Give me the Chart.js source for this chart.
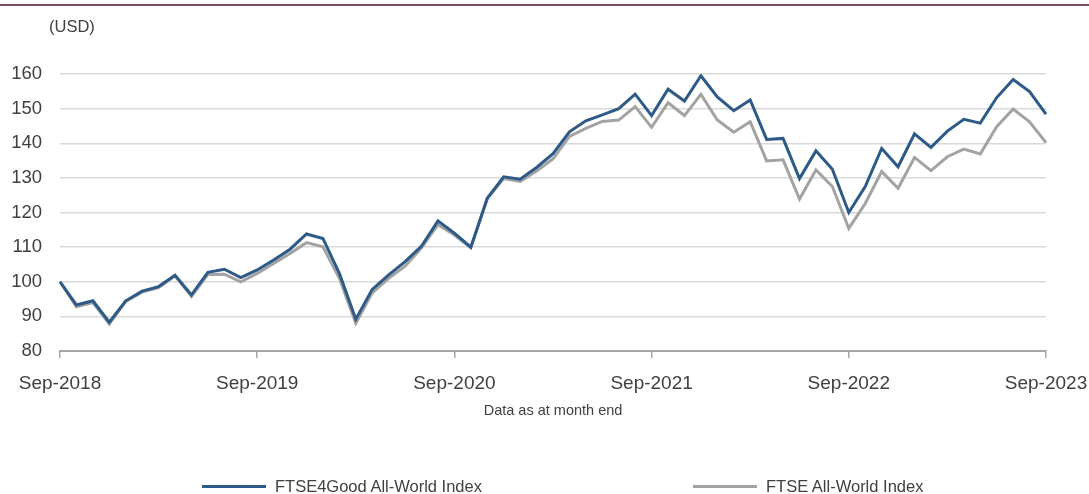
<!DOCTYPE html>
<html lang="en">
<head>
    <meta charset="UTF-8">
    <title>FTSE4Good All-World vs FTSE All-World</title>
    <script src="https://cdn.jsdelivr.net/npm/chart.js"></script>
    <style>
        body { margin: 0; background: #fff; font-family: Arial, "Liberation Sans", sans-serif; color: #404040; }
        #wrap { position: relative; width: 1089px; height: 494px; overflow: hidden; }
        #topline { position: absolute; left: 0; top: 4px; width: 1089px; height: 2px; background: #7a4a5e; }
        #unit { position: absolute; left: 49px; top: 17px; font-size: 16.5px; }
        .leg { position: absolute; top: 477px; font-size: 16.5px; white-space: nowrap; }
        .leg span { display: inline-block; width: 64px; height: 3px; vertical-align: middle; margin-right: 9px; position: relative; top: -1px; }
    </style>
</head>
<body>
<div id="wrap">
    <div id="topline"></div>
    <div id="unit">(USD)</div>
    <canvas id="chart" width="1089" height="494"></canvas>
    <div class="leg" style="left:202px"><span style="background:#2e5a88"></span>FTSE4Good All-World Index</div>
    <div class="leg" style="left:693px"><span style="background:#a3a3a3"></span>FTSE All-World Index</div>
</div>
<script>
const months = [
    'Sep-2018','Oct-2018','Nov-2018','Dec-2018','Jan-2019','Feb-2019','Mar-2019','Apr-2019','May-2019','Jun-2019','Jul-2019','Aug-2019',
    'Sep-2019','Oct-2019','Nov-2019','Dec-2019','Jan-2020','Feb-2020','Mar-2020','Apr-2020','May-2020','Jun-2020','Jul-2020','Aug-2020',
    'Sep-2020','Oct-2020','Nov-2020','Dec-2020','Jan-2021','Feb-2021','Mar-2021','Apr-2021','May-2021','Jun-2021','Jul-2021','Aug-2021',
    'Sep-2021','Oct-2021','Nov-2021','Dec-2021','Jan-2022','Feb-2022','Mar-2022','Apr-2022','May-2022','Jun-2022','Jul-2022','Aug-2022',
    'Sep-2022','Oct-2022','Nov-2022','Dec-2022','Jan-2023','Feb-2023','Mar-2023','Apr-2023','May-2023','Jun-2023','Jul-2023','Aug-2023',
    'Sep-2023'
];
const tickLabels = ['Sep-2018', 'Sep-2019', 'Sep-2020', 'Sep-2021', 'Sep-2022', 'Sep-2023'];

const ftse4good = [100, 93.3, 94.5, 88.3, 94.5, 97.3, 98.6, 101.9, 96.2, 102.7, 103.6, 101.2,
    103.4, 106.3, 109.4, 113.8, 112.5, 102.4, 89.2, 97.8, 102, 105.8, 110.3, 117.6,
    114, 110, 124.1, 130.3, 129.6, 133, 137, 143.3, 146.5, 148.2, 150, 154.2,
    148, 155.6, 152.2, 159.5, 153.4, 149.4, 152.5, 141.1, 141.4, 129.8, 137.8, 132.5,
    120, 127.5, 138.5, 133.2, 142.7, 138.8, 143.5, 146.9, 145.8, 153.2, 158.4, 154.9,
    148.4];
const ftseAllWorld = [100, 92.8, 94, 87.8, 94.3, 97, 98.3, 101.7, 95.7, 102.1, 102.2, 100,
    102.4, 105.3, 108.2, 111.3, 110.1, 101, 88, 96.8, 101, 104.5, 109.8, 116.5,
    113.5, 109.8, 124, 129.8, 129, 132, 135.5, 142, 144.3, 146.3, 146.7, 150.6,
    144.6, 151.7, 148, 154.1, 146.7, 143.2, 146.2, 134.9, 135.2, 123.9, 132.3, 127.5,
    115.4, 122.6, 131.8, 127, 135.9, 132.1, 136.1, 138.3, 136.9, 144.8, 149.9, 146.2,
    140.2];

const isTick = i => tickLabels.includes(months[i]);

new Chart(document.getElementById('chart'), {
    type: 'line',
    data: {
        labels: months,
        datasets: [
            { label: 'FTSE4Good All-World Index', data: ftse4good, borderColor: '#2e5a88', borderWidth: 3, pointRadius: 0, tension: 0 },
            { label: 'FTSE All-World Index', data: ftseAllWorld, borderColor: '#a3a3a3', borderWidth: 3, pointRadius: 0, tension: 0 }
        ]
    },
    options: {
        responsive: false,
        animation: false,
        layout: { padding: { top: 74, right: 43, left: 0, bottom: 0 } },
        plugins: { legend: { display: false }, tooltip: { enabled: false } },
        scales: {
            x: {
                offset: false,
                border: { display: true, color: '#a6a6a6', width: 2 },
                grid: {
                    drawOnChartArea: false,
                    drawTicks: true,
                    tickLength: 7,
                    lineWidth: 1.5,
                    tickColor: ctx => isTick(ctx.index) ? '#a6a6a6' : 'rgba(0,0,0,0)'
                },
                ticks: {
                    autoSkip: false,
                    maxRotation: 0,
                    padding: 14,
                    color: '#404040',
                    font: { family: 'Arial, "Liberation Sans", sans-serif', size: 19 },
                    callback: (v, i) => isTick(i) ? months[i] : ''
                },
                title: {
                    display: true,
                    text: 'Data as at month end',
                    color: '#404040',
                    font: { family: 'Arial, "Liberation Sans", sans-serif', size: 14.5 },
                    padding: { top: 0, bottom: 74 }
                },
                afterFit: s => { s.height = 143; s.paddingLeft = 0; s.paddingRight = 0; }
            },
            y: {
                min: 80,
                max: 160,
                border: { display: false },
                grid: { color: '#d9d9d9', lineWidth: 1.5, drawTicks: false },
                ticks: {
                    stepSize: 10,
                    padding: 18,
                    color: '#404040',
                    font: { family: 'Arial, "Liberation Sans", sans-serif', size: 18.5 }
                },
                afterFit: s => { s.width = 60; }
            }
        }
    }
});
</script>
</body>
</html>
